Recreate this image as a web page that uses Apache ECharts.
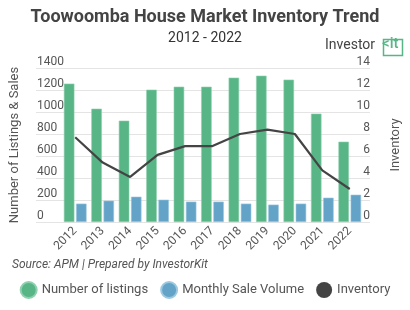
<!DOCTYPE html>
<html>
<head>
<meta charset="utf-8">
<script src="https://cdn.jsdelivr.net/npm/echarts@6/dist/echarts.min.js"></script>
<style>
  html, body { margin: 0; padding: 0; background: #fff; }
  #chart { width: 410px; height: 310px; }
</style>
</head>
<body>
<div id="chart"></div>
<script>
// values
var years = ['2012', '2013', '2014', '2015', '2016', '2017', '2018', '2019', '2020', '2021', '2022'];
var listings = [1258, 1030, 921, 1203, 1230, 1230, 1312, 1330, 1294, 985, 730];
var sales = [167, 194, 230, 203, 185, 185, 167, 158, 167, 221, 248];
var inventory = [7.7, 5.4, 4.1, 6.1, 6.9, 6.9, 8.0, 8.4, 8.0, 4.7, 3.0];

var green = '#57b586';
var blue = '#63a3c7';
var dark = '#444444';
var txt = '#555555';
var font = 'Roboto';

var chart = echarts.init(document.getElementById('chart'));

var option = {
  textStyle: { fontFamily: font },
  title: [
    { text: 'Toowoomba House Market Inventory Trend', left: 'center', top: 3,
      textStyle: { fontSize: 18, fontWeight: 'bold', color: dark, fontFamily: font } },
    { text: '2012 - 2022', left: 'center', top: 26,
      textStyle: { fontSize: 14, fontWeight: 'normal', color: '#333', fontFamily: font } },
    { text: 'Source: APM | Prepared by InvestorKit', left: 7, top: 254,
      textStyle: { fontSize: 12, fontStyle: 'italic', fontWeight: 'normal', color: txt, fontFamily: font } }
  ],
  legend: {
    bottom: 6, left: 'center', icon: 'circle', itemWidth: 16, itemHeight: 16, itemGap: 12,
    textStyle: { fontSize: 13, color: txt },
    data: ['Number of listings', 'Monthly Sale Volume', 'Inventory']
  },
  // grid 0 carries the gridlines and tick labels, grid 1 the marks
  grid: [
    { left: 29, right: 32, top: 68, height: 154 },
    { left: 61.5, right: 46.5, top: 68, height: 154 }
  ],
  xAxis: [
    { type: 'category', gridIndex: 0, data: years, show: false },
    { type: 'category', gridIndex: 1, data: years,
      axisLine: { show: false }, axisTick: { show: false },
      axisLabel: { rotate: 45, fontSize: 12, color: txt, margin: 7, interval: 0 } }
  ],
  yAxis: [
    { type: 'value', gridIndex: 0, min: 0, max: 1400, interval: 200,
      name: 'Number of Listings & Sales', nameLocation: 'middle', nameGap: 15,
      nameTextStyle: { fontSize: 13, color: txt },
      axisLine: { show: false }, axisTick: { show: false },
      axisLabel: { inside: true, verticalAlign: 'bottom', margin: 1, fontSize: 12, color: txt,
        formatter: function (v) { return String(v); } },
      splitLine: { lineStyle: { color: '#e4e4e4' } } },
    { type: 'value', gridIndex: 0, min: 0, max: 14, interval: 2, position: 'right',
      name: 'Inventory', nameLocation: 'middle', nameGap: 19, nameRotate: 90,
      nameTextStyle: { fontSize: 13, color: txt },
      axisLine: { show: false }, axisTick: { show: false },
      axisLabel: { inside: true, verticalAlign: 'bottom', margin: 0, fontSize: 12, color: txt },
      splitLine: { show: false } },
    { type: 'value', gridIndex: 1, min: 0, max: 1400, show: false },
    { type: 'value', gridIndex: 1, min: 0, max: 14, show: false }
  ],
  series: [
    { name: 'Number of listings', type: 'bar', xAxisIndex: 1, yAxisIndex: 2, data: listings,
      barWidth: 10.5, barGap: '16%',
      itemStyle: { color: green, borderColor: '#8fd0ae', borderWidth: 0.6 } },
    { name: 'Monthly Sale Volume', type: 'bar', xAxisIndex: 1, yAxisIndex: 2, data: sales,
      barWidth: 10.5, barGap: '16%',
      itemStyle: { color: blue, borderColor: '#9cc8e0', borderWidth: 0.6 } },
    { name: 'Inventory', type: 'line', xAxisIndex: 1, yAxisIndex: 3, data: inventory,
      showSymbol: false, symbol: 'circle', symbolSize: 7,
      itemStyle: { color: dark }, lineStyle: { color: dark, width: 2.2 } }
  ],
  graphic: [
    { type: 'text', left: 325, top: 38,
      style: { text: 'Investor', fontSize: 14, fontFamily: font, fill: '#444' } },
    { type: 'rect', left: 381, top: 37, shape: { width: 19, height: 16 },
      style: { fill: 'none', stroke: green, lineWidth: 1.5 } },
    { type: 'text', left: 382, top: 37,
      style: { text: '<it', fontSize: 15, fontWeight: 500, fontFamily: font, fill: green } }
  ]
};

chart.setOption(option);
</script>
</body>
</html>
